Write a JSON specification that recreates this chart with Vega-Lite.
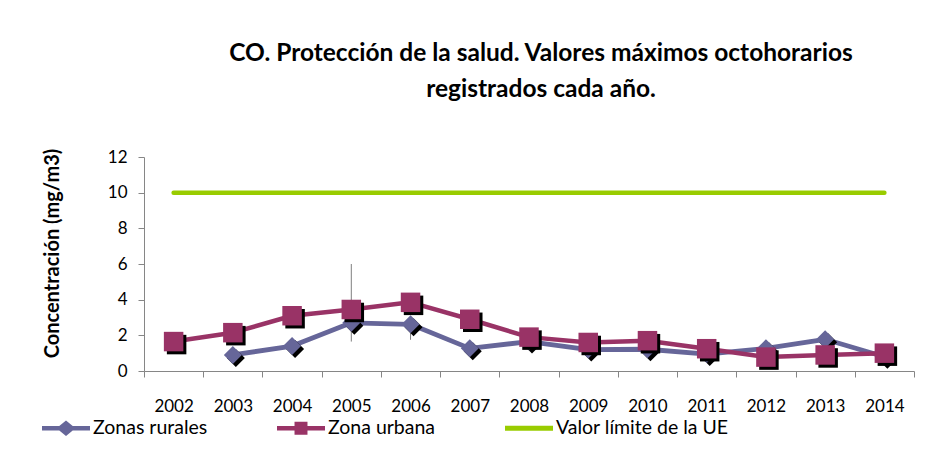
{
  "$schema": "https://vega.github.io/schema/vega-lite/v6.json",
  "width": 770,
  "height": 214,
  "autosize": "none",
  "padding": {"left": 144, "top": 157, "right": 27, "bottom": 82},
  "background": "white",
  "config": {"view": {"stroke": null}, "font": "Lato"},
  "title": {
    "text": ["CO. Protección de la salud. Valores máximos octohorarios", "registrados cada año."],
    "font": "Lato", "fontSize": 24.5, "fontWeight": "bold", "color": "black",
    "anchor": "middle", "dx": 12, "offset": 46, "lineHeight": 36
  },
  "datasets": {
    "series": [
      {"year": "2002", "serie": "Zona urbana", "value": 1.65},
      {"year": "2003", "serie": "Zona urbana", "value": 2.15},
      {"year": "2004", "serie": "Zona urbana", "value": 3.1},
      {"year": "2005", "serie": "Zona urbana", "value": 3.45},
      {"year": "2006", "serie": "Zona urbana", "value": 3.85},
      {"year": "2007", "serie": "Zona urbana", "value": 2.9},
      {"year": "2008", "serie": "Zona urbana", "value": 1.9},
      {"year": "2009", "serie": "Zona urbana", "value": 1.6},
      {"year": "2010", "serie": "Zona urbana", "value": 1.7},
      {"year": "2011", "serie": "Zona urbana", "value": 1.25},
      {"year": "2012", "serie": "Zona urbana", "value": 0.78},
      {"year": "2013", "serie": "Zona urbana", "value": 0.9},
      {"year": "2014", "serie": "Zona urbana", "value": 1.0},
      {"year": "2003", "serie": "Zonas rurales", "value": 0.9},
      {"year": "2004", "serie": "Zonas rurales", "value": 1.4},
      {"year": "2005", "serie": "Zonas rurales", "value": 2.7},
      {"year": "2006", "serie": "Zonas rurales", "value": 2.62},
      {"year": "2007", "serie": "Zonas rurales", "value": 1.27},
      {"year": "2008", "serie": "Zonas rurales", "value": 1.65},
      {"year": "2009", "serie": "Zonas rurales", "value": 1.2},
      {"year": "2010", "serie": "Zonas rurales", "value": 1.22},
      {"year": "2011", "serie": "Zonas rurales", "value": 0.95},
      {"year": "2012", "serie": "Zonas rurales", "value": 1.27},
      {"year": "2013", "serie": "Zonas rurales", "value": 1.78},
      {"year": "2014", "serie": "Zonas rurales", "value": 0.8},
      {"year": "2002", "serie": "Valor límite de la UE", "value": 10},
      {"year": "2003", "serie": "Valor límite de la UE", "value": 10},
      {"year": "2004", "serie": "Valor límite de la UE", "value": 10},
      {"year": "2005", "serie": "Valor límite de la UE", "value": 10},
      {"year": "2006", "serie": "Valor límite de la UE", "value": 10},
      {"year": "2007", "serie": "Valor límite de la UE", "value": 10},
      {"year": "2008", "serie": "Valor límite de la UE", "value": 10},
      {"year": "2009", "serie": "Valor límite de la UE", "value": 10},
      {"year": "2010", "serie": "Valor límite de la UE", "value": 10},
      {"year": "2011", "serie": "Valor límite de la UE", "value": 10},
      {"year": "2012", "serie": "Valor límite de la UE", "value": 10},
      {"year": "2013", "serie": "Valor límite de la UE", "value": 10},
      {"year": "2014", "serie": "Valor límite de la UE", "value": 10}
    ],
    "guides": [
      {"year": "2005", "value": 1.65, "value2": 6.0},
      {"year": "2006", "value": 1.75, "value2": 2.6}
    ]
  },
  "encoding": {
    "x": {
      "field": "year", "type": "ordinal",
      "scale": {"type": "band", "paddingInner": 0, "paddingOuter": 0},
      "axis": {
        "title": null, "labelAngle": 0, "grid": false,
        "domainColor": "#868686", "tickColor": "#868686", "tickSize": 6,
        "tickBand": "extent", "labelPadding": 21,
        "labelFont": "Lato", "labelFontSize": 17, "labelColor": "black"
      }
    },
    "y": {
      "field": "value", "type": "quantitative",
      "scale": {"domain": [0, 12]},
      "axis": {
        "values": [0, 2, 4, 6, 8, 10, 12], "grid": false,
        "title": "Concentración (mg/m3)", "titleFont": "Lato", "titleFontSize": 20,
        "titleFontWeight": "bold", "titleColor": "black", "titlePadding": 45,
        "titleY": 96, "titleAlign": "center",
        "labelFont": "Lato", "labelFontSize": 17, "labelColor": "black", "labelPadding": 11,
        "domainColor": "#868686", "tickColor": "#868686", "tickSize": 6
      }
    }
  },
  "layer": [
    {
      "data": {"name": "guides"},
      "mark": {"type": "rule", "color": "#7f7f7f", "strokeWidth": 1},
      "encoding": {"y2": {"field": "value2"}}
    },
    {
      "data": {"name": "series"},
      "transform": [{"filter": "datum.serie === 'Zonas rurales'"}],
      "mark": {"type": "line", "strokeWidth": 4.8, "strokeJoin": "round"},
      "encoding": {
        "color": {
          "field": "serie", "type": "nominal",
          "scale": {
            "domain": ["Zonas rurales", "Zona urbana", "Valor límite de la UE"],
            "range": ["#666699", "#993366", "#99cc00"]
          },
          "legend": {
            "orient": "none", "legendX": -102, "legendY": 247,
            "direction": "horizontal", "title": null,
            "symbolSize": 2304, "labelFont": "Lato", "labelFontSize": 19.5,
            "labelColor": "black", "labelOffset": 3, "columnPadding": 69,
            "labelLimit": 400,
            "encode": {
              "symbols": {
                "update": {
                  "shape": {"signal": "datum.value === 'Zonas rurales' ? 'M-1,-0.09L-0.28,-0.09L0,-0.32L0.28,-0.09L1,-0.09L1,0.09L0.28,0.09L0,0.32L-0.28,0.09L-1,0.09Z' : datum.value === 'Zona urbana' ? 'M-1,-0.09L-0.27,-0.09L-0.27,-0.27L0.27,-0.27L0.27,-0.09L1,-0.09L1,0.09L0.27,0.09L0.27,0.27L-0.27,0.27L-0.27,0.09L-1,0.09Z' : 'M-1,-0.1L1,-0.1L1,0.1L-1,0.1Z'"},
                  "fill": {"signal": "scale('color', datum.value)"},
                  "stroke": {"value": "transparent"},
                  "strokeWidth": {"value": 0}
                }
              }
            }
          }
        }
      }
    },
    {
      "data": {"name": "series"},
      "transform": [{"filter": "datum.serie === 'Zonas rurales'"}],
      "mark": {"type": "point", "shape": "diamond", "filled": true, "opacity": 1, "size": 324, "color": "black", "xOffset": 3, "yOffset": 3}
    },
    {
      "data": {"name": "series"},
      "transform": [{"filter": "datum.serie === 'Zonas rurales'"}],
      "mark": {"type": "point", "shape": "diamond", "filled": true, "opacity": 1, "size": 324, "color": "#666699"}
    },
    {
      "data": {"name": "series"},
      "transform": [{"filter": "datum.serie === 'Zona urbana'"}],
      "mark": {"type": "line", "strokeWidth": 4.5, "strokeJoin": "round"},
      "encoding": {"color": {"field": "serie", "type": "nominal", "legend": null}}
    },
    {
      "data": {"name": "series"},
      "transform": [{"filter": "datum.serie === 'Zona urbana'"}],
      "mark": {"type": "point", "shape": "square", "filled": true, "opacity": 1, "size": 380, "color": "black", "xOffset": 3, "yOffset": 3}
    },
    {
      "data": {"name": "series"},
      "transform": [{"filter": "datum.serie === 'Zona urbana'"}],
      "mark": {"type": "point", "shape": "square", "filled": true, "opacity": 1, "size": 380, "color": "#993366"}
    },
    {
      "data": {"name": "series"},
      "transform": [{"filter": "datum.serie === 'Valor límite de la UE'"}],
      "mark": {"type": "line", "strokeWidth": 4.5, "strokeCap": "round"},
      "encoding": {"color": {"field": "serie", "type": "nominal", "legend": null}}
    }
  ]
}
